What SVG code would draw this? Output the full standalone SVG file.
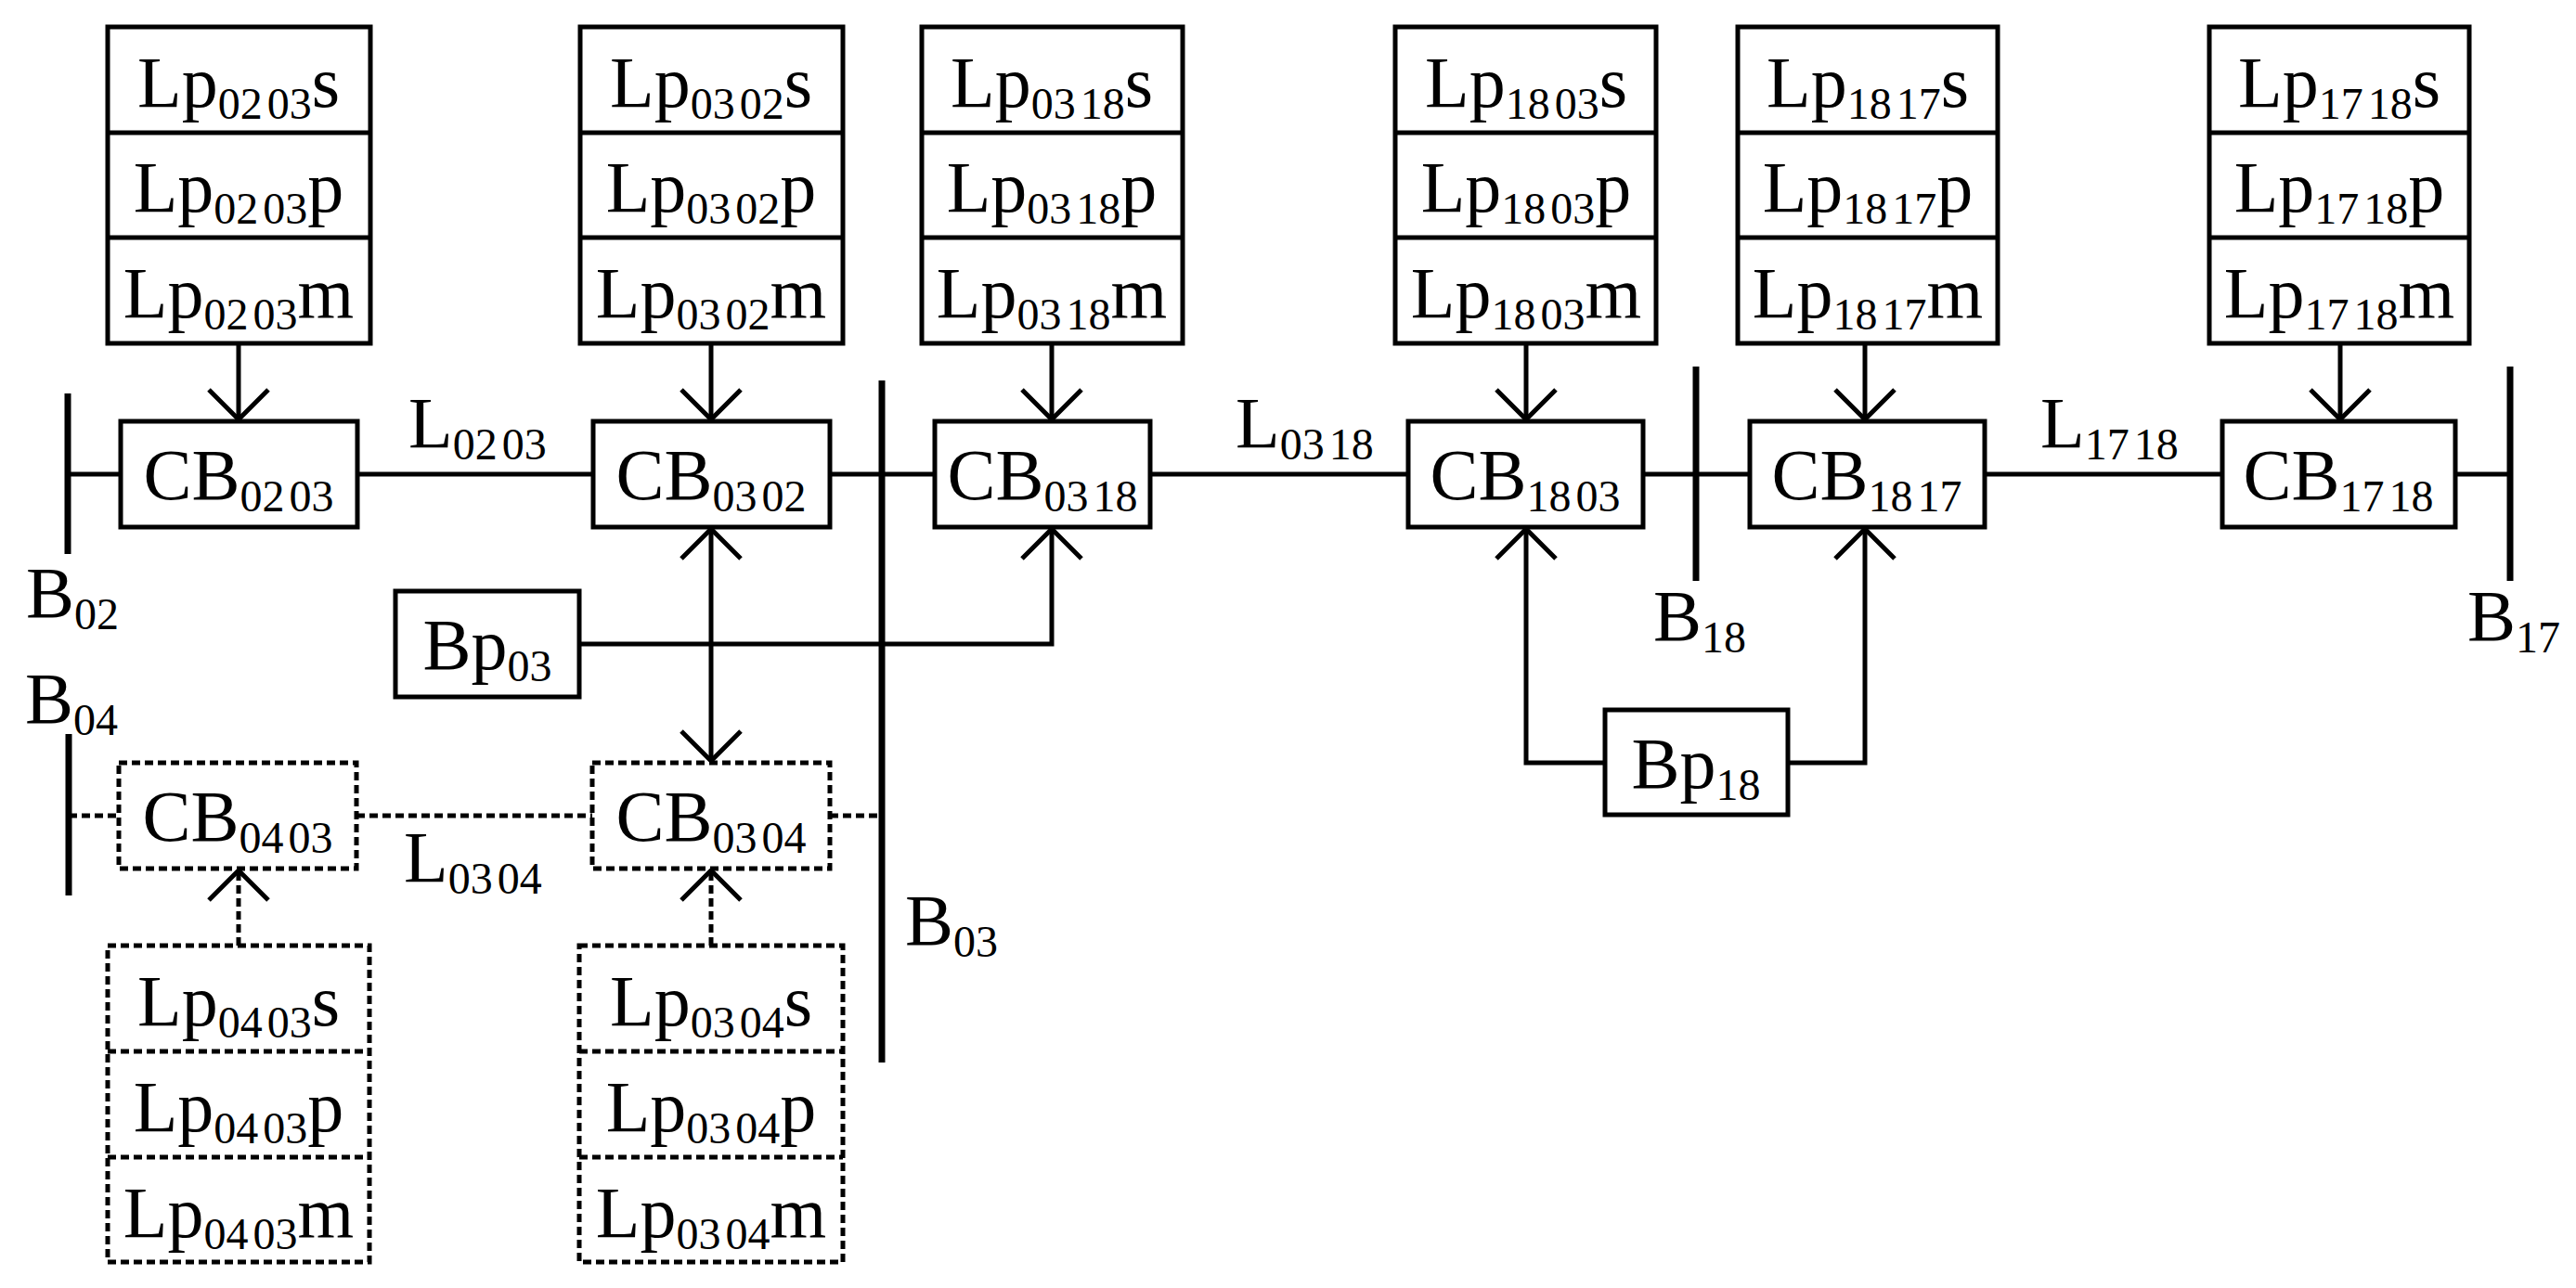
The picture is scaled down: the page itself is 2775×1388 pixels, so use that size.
<svg xmlns="http://www.w3.org/2000/svg" width="2775" height="1388" viewBox="0 0 2775 1388">
<style>
text{font-family:"Liberation Serif","Times New Roman",serif;font-size:78px;fill:#000;text-anchor:middle}
.sub{font-size:48px}
.bx{fill:#fff;stroke:#000;stroke-width:5}
.dbx{fill:#fff;stroke:#000;stroke-width:5;stroke-dasharray:9 5}
.ln{fill:none;stroke:#000;stroke-width:5}
.dl{fill:none;stroke:#000;stroke-width:5;stroke-dasharray:9 5}
.bus{stroke:#000;stroke-width:7}
.lb{text-anchor:start}
</style>
<defs>
<marker id="ar" viewBox="-40 -40 44 80" markerWidth="44" markerHeight="80" refX="0" refY="0" markerUnits="userSpaceOnUse" orient="auto-start-reverse">
<path d="M-32,-32 L0,0 L-32,32" fill="none" stroke="#000" stroke-width="5"/>
</marker>
</defs>
<g id="connectors">
<line class="bus" x1="73" y1="424" x2="73" y2="597"/>
<line class="bus" x1="950" y1="410" x2="950" y2="1145"/>
<line class="bus" x1="1827" y1="395" x2="1827" y2="626"/>
<line class="bus" x1="2704" y1="395" x2="2704" y2="626"/>
<line class="bus" x1="74" y1="791" x2="74" y2="965"/>
<path class="ln" d="M73,511H130M385,511H639M894,511H1007M1239,511H1517M1770,511H1885M2138,511H2394M2645,511H2704"/>
<path class="dl" d="M74,879H128M384,879H638M894,879H949"/>
<g marker-end="url(#ar)">
<line class="ln" x1="257" y1="370" x2="257" y2="452"/>
<line class="ln" x1="766" y1="370" x2="766" y2="452"/>
<line class="ln" x1="1133" y1="370" x2="1133" y2="452"/>
<line class="ln" x1="1644" y1="370" x2="1644" y2="452"/>
<line class="ln" x1="2009" y1="370" x2="2009" y2="452"/>
<line class="ln" x1="2521" y1="370" x2="2521" y2="452"/>
<path class="ln" d="M624,694H1133V570"/>
<path class="ln" d="M1729,822H1644V570"/>
<path class="ln" d="M1926,822H2009V570"/>
<line class="ln" x1="766" y1="570" x2="766" y2="820" marker-start="url(#ar)"/>
<line class="dl" x1="257" y1="1019" x2="257" y2="938"/>
<line class="dl" x1="766" y1="1019" x2="766" y2="938"/>
</g>
</g>
<g id="labels">
<text x="440" y="482" class="lb">L<tspan class="sub" dy="13">02</tspan><tspan class="sub" dx="5">03</tspan></text>
<text x="1331" y="482" class="lb">L<tspan class="sub" dy="13">03</tspan><tspan class="sub" dx="5">18</tspan></text>
<text x="2198" y="482" class="lb">L<tspan class="sub" dy="13">17</tspan><tspan class="sub" dx="5">18</tspan></text>
<text x="435" y="950" class="lb">L<tspan class="sub" dy="13">03</tspan><tspan class="sub" dx="5">04</tspan></text>
<text x="28" y="665" class="lb">B<tspan class="sub" dy="13">02</tspan></text>
<text x="27" y="779" class="lb">B<tspan class="sub" dy="13">04</tspan></text>
<text x="975" y="1018" class="lb">B<tspan class="sub" dy="13">03</tspan></text>
<text x="1781" y="690" class="lb">B<tspan class="sub" dy="13">18</tspan></text>
<text x="2658" y="690" class="lb">B<tspan class="sub" dy="13">17</tspan></text>
</g>
<g id="Lp0203"><rect class="bx" x="116" y="29" width="283" height="341"/><path class="ln" d="M116,143H399M116,256H399"/>
<text x="257" y="115">Lp<tspan class="sub" dy="13">02</tspan><tspan class="sub" dx="5">03</tspan><tspan dy="-13">s</tspan></text>
<text x="257" y="228">Lp<tspan class="sub" dy="13">02</tspan><tspan class="sub" dx="5">03</tspan><tspan dy="-13">p</tspan></text>
<text x="257" y="342">Lp<tspan class="sub" dy="13">02</tspan><tspan class="sub" dx="5">03</tspan><tspan dy="-13">m</tspan></text></g>
<g id="Lp0302"><rect class="bx" x="625" y="29" width="283" height="341"/><path class="ln" d="M625,143H908M625,256H908"/>
<text x="766" y="115">Lp<tspan class="sub" dy="13">03</tspan><tspan class="sub" dx="5">02</tspan><tspan dy="-13">s</tspan></text>
<text x="766" y="228">Lp<tspan class="sub" dy="13">03</tspan><tspan class="sub" dx="5">02</tspan><tspan dy="-13">p</tspan></text>
<text x="766" y="342">Lp<tspan class="sub" dy="13">03</tspan><tspan class="sub" dx="5">02</tspan><tspan dy="-13">m</tspan></text></g>
<g id="Lp0318"><rect class="bx" x="993" y="29" width="281" height="341"/><path class="ln" d="M993,143H1274M993,256H1274"/>
<text x="1133" y="115">Lp<tspan class="sub" dy="13">03</tspan><tspan class="sub" dx="5">18</tspan><tspan dy="-13">s</tspan></text>
<text x="1133" y="228">Lp<tspan class="sub" dy="13">03</tspan><tspan class="sub" dx="5">18</tspan><tspan dy="-13">p</tspan></text>
<text x="1133" y="342">Lp<tspan class="sub" dy="13">03</tspan><tspan class="sub" dx="5">18</tspan><tspan dy="-13">m</tspan></text></g>
<g id="Lp1803"><rect class="bx" x="1503" y="29" width="281" height="341"/><path class="ln" d="M1503,143H1784M1503,256H1784"/>
<text x="1644" y="115">Lp<tspan class="sub" dy="13">18</tspan><tspan class="sub" dx="5">03</tspan><tspan dy="-13">s</tspan></text>
<text x="1644" y="228">Lp<tspan class="sub" dy="13">18</tspan><tspan class="sub" dx="5">03</tspan><tspan dy="-13">p</tspan></text>
<text x="1644" y="342">Lp<tspan class="sub" dy="13">18</tspan><tspan class="sub" dx="5">03</tspan><tspan dy="-13">m</tspan></text></g>
<g id="Lp1817"><rect class="bx" x="1872" y="29" width="280" height="341"/><path class="ln" d="M1872,143H2152M1872,256H2152"/>
<text x="2012" y="115">Lp<tspan class="sub" dy="13">18</tspan><tspan class="sub" dx="5">17</tspan><tspan dy="-13">s</tspan></text>
<text x="2012" y="228">Lp<tspan class="sub" dy="13">18</tspan><tspan class="sub" dx="5">17</tspan><tspan dy="-13">p</tspan></text>
<text x="2012" y="342">Lp<tspan class="sub" dy="13">18</tspan><tspan class="sub" dx="5">17</tspan><tspan dy="-13">m</tspan></text></g>
<g id="Lp1718"><rect class="bx" x="2380" y="29" width="280" height="341"/><path class="ln" d="M2380,143H2660M2380,256H2660"/>
<text x="2520" y="115">Lp<tspan class="sub" dy="13">17</tspan><tspan class="sub" dx="5">18</tspan><tspan dy="-13">s</tspan></text>
<text x="2520" y="228">Lp<tspan class="sub" dy="13">17</tspan><tspan class="sub" dx="5">18</tspan><tspan dy="-13">p</tspan></text>
<text x="2520" y="342">Lp<tspan class="sub" dy="13">17</tspan><tspan class="sub" dx="5">18</tspan><tspan dy="-13">m</tspan></text></g>
<g id="Lp0403"><rect class="dbx" x="116" y="1019" width="282" height="341"/><path class="dl" d="M116,1133H398M116,1247H398"/>
<text x="257" y="1105">Lp<tspan class="sub" dy="13">04</tspan><tspan class="sub" dx="5">03</tspan><tspan dy="-13">s</tspan></text>
<text x="257" y="1219">Lp<tspan class="sub" dy="13">04</tspan><tspan class="sub" dx="5">03</tspan><tspan dy="-13">p</tspan></text>
<text x="257" y="1333">Lp<tspan class="sub" dy="13">04</tspan><tspan class="sub" dx="5">03</tspan><tspan dy="-13">m</tspan></text></g>
<g id="Lp0304"><rect class="dbx" x="624" y="1019" width="284" height="341"/><path class="dl" d="M624,1133H908M624,1247H908"/>
<text x="766" y="1105">Lp<tspan class="sub" dy="13">03</tspan><tspan class="sub" dx="5">04</tspan><tspan dy="-13">s</tspan></text>
<text x="766" y="1219">Lp<tspan class="sub" dy="13">03</tspan><tspan class="sub" dx="5">04</tspan><tspan dy="-13">p</tspan></text>
<text x="766" y="1333">Lp<tspan class="sub" dy="13">03</tspan><tspan class="sub" dx="5">04</tspan><tspan dy="-13">m</tspan></text></g>
<g id="CB0203"><rect class="bx" x="130" y="454" width="255" height="114"/><text x="257" y="538">CB<tspan class="sub" dy="13">02</tspan><tspan class="sub" dx="5">03</tspan></text></g>
<g id="CB0302"><rect class="bx" x="639" y="454" width="255" height="114"/><text x="766" y="538">CB<tspan class="sub" dy="13">03</tspan><tspan class="sub" dx="5">02</tspan></text></g>
<g id="CB0318"><rect class="bx" x="1007" y="454" width="232" height="114"/><text x="1123" y="538">CB<tspan class="sub" dy="13">03</tspan><tspan class="sub" dx="5">18</tspan></text></g>
<g id="CB1803"><rect class="bx" x="1517" y="454" width="253" height="114"/><text x="1643" y="538">CB<tspan class="sub" dy="13">18</tspan><tspan class="sub" dx="5">03</tspan></text></g>
<g id="CB1817"><rect class="bx" x="1885" y="454" width="253" height="114"/><text x="2011" y="538">CB<tspan class="sub" dy="13">18</tspan><tspan class="sub" dx="5">17</tspan></text></g>
<g id="CB1718"><rect class="bx" x="2394" y="454" width="251" height="114"/><text x="2519" y="538">CB<tspan class="sub" dy="13">17</tspan><tspan class="sub" dx="5">18</tspan></text></g>
<g id="CB0403"><rect class="dbx" x="128" y="822" width="256" height="114"/><text x="256" y="906">CB<tspan class="sub" dy="13">04</tspan><tspan class="sub" dx="5">03</tspan></text></g>
<g id="CB0304"><rect class="dbx" x="638" y="822" width="256" height="114"/><text x="766" y="906">CB<tspan class="sub" dy="13">03</tspan><tspan class="sub" dx="5">04</tspan></text></g>
<g id="Bp03"><rect class="bx" x="426" y="637" width="198" height="114"/><text x="525" y="721">Bp<tspan class="sub" dy="13">03</tspan></text></g>
<g id="Bp18"><rect class="bx" x="1729" y="765" width="197" height="113"/><text x="1827" y="849">Bp<tspan class="sub" dy="13">18</tspan></text></g>
</svg>
